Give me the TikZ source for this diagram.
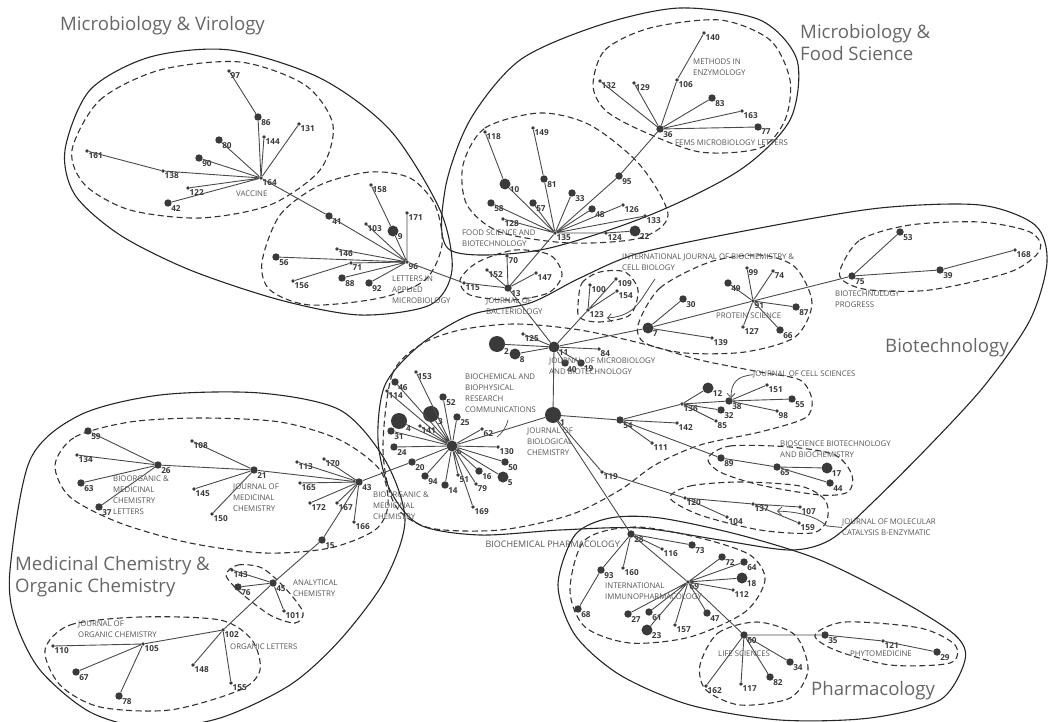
\documentclass[tikz,border=0pt]{standalone}
\usepackage{fontspec}
\setmainfont{Open Sans}
\usetikzlibrary{arrows.meta}
\definecolor{dotgray}{HTML}{3A3A3A}
\definecolor{linkgray}{HTML}{4A4A4A}
\definecolor{namegray}{HTML}{555555}
\definecolor{titlegray}{HTML}{666666}
\begin{document}
\begin{tikzpicture}[x=1pt,y=-1pt,
    dotS/.style={circle,fill=dotgray,inner sep=0pt,minimum size=3.8pt},
    dotM/.style={circle,fill=dotgray,inner sep=0pt,minimum size=7.4pt},
    dotL/.style={circle,fill=dotgray,inner sep=0pt,minimum size=11pt},
    dotX/.style={circle,fill=dotgray,inner sep=0pt,minimum size=16pt},
    link/.style={draw=linkgray,line width=0.9pt},
    region/.style={draw=black!85,line width=1.1pt},
    cluster/.style={draw=black!80,line width=1.1pt,dash pattern=on 6pt off 3.5pt},
    jname/.style={font=\fontsize{7.8}{10.8}\selectfont,text=namegray,align=left,anchor=north west,inner sep=0pt},
    group/.style={font=\fontsize{18.6}{22.5}\selectfont,text=titlegray,align=left,anchor=north west,inner sep=0pt},
    pointer/.style={draw=linkgray,line width=0.8pt,-{Straight Barb[length=4pt,width=8pt]}},
    every label/.style={font=\fontsize{8.2}{9}\selectfont\bfseries,text=black!78,inner sep=0.4pt},
    label distance=-0.8pt
  ]
  \useasboundingbox (0,0) rectangle (1049,722);

  % subject areas
  \draw[region] plot[smooth cycle] coordinates {(65,150) (90,90) (150,57) (230,50) (320,78) (390,130) (440,210) (452,270) (430,305) (360,315) (280,300) (190,270) (120,235) (75,195)};
  \draw[region] plot[smooth cycle] coordinates {(450,250) (540,250) (650,215) (740,170) (790,120) (797,60) (760,20) (680,8) (600,25) (520,60) (470,120) (445,190)};
  \draw[region] plot[smooth cycle] coordinates {(378,440) (385,385) (420,345) (470,315) (530,303) (580,278) (640,253) (760,228) (880,208) (980,205) (1035,225) (1047,262) (1030,320) (985,385) (930,445) (870,505) (830,540) (790,550) (720,540) (640,528) (560,530) (480,535) (420,525) (390,490)};
  \draw[region] plot[smooth cycle] coordinates {(10,570) (30,460) (80,415) (160,395) (260,393) (340,410) (385,460) (405,520) (385,580) (340,640) (290,685) (220,718) (150,728) (90,712) (40,670) (15,620)};
  \draw[region] plot[smooth cycle] coordinates {(558,585) (575,535) (610,518) (660,518) (740,535) (820,560) (900,600) (955,635) (965,660) (940,700) (870,718) (780,720) (690,705) (620,675) (575,635)};

  % journal clusters
  \draw[cluster] plot[smooth cycle] coordinates {(72,150) (100,100) (160,70) (240,62) (305,85) (333,125) (320,170) (270,205) (200,218) (130,210) (85,185)};
  \draw[cluster] plot[smooth cycle] coordinates {(262,262) (280,215) (320,185) (370,172) (410,178) (435,205) (442,245) (425,280) (380,298) (310,305) (270,290)};
  \draw[cluster] plot[smooth cycle] coordinates {(593,85) (605,50) (650,28) (720,20) (770,40) (790,80) (785,120) (760,148) (700,152) (640,130) (605,110)};
  \draw[cluster] plot[smooth cycle] coordinates {(463,165) (485,128) (540,113) (590,125) (640,165) (668,215) (640,238) (570,243) (500,232) (467,205)};
  \draw[cluster] plot[smooth cycle] coordinates {(460,280) (478,262) (515,250) (550,255) (562,275) (548,293) (510,300) (470,295)};
  \draw[cluster] plot[smooth cycle] coordinates {(578,305) (582,283) (600,272) (625,272) (638,290) (630,315) (600,322) (580,318)};
  \draw[cluster] plot[smooth cycle] coordinates {(638,325) (660,288) (710,262) (760,255) (795,267) (812,303) (795,337) (745,352) (685,353) (645,343)};
  \draw[cluster] plot[smooth cycle] coordinates {(840,270) (860,240) (910,225) (980,222) (1030,232) (1040,250) (1010,272) (930,290) (870,290) (845,282)};
  \draw[cluster] plot[smooth cycle] coordinates {(383,450) (392,375) (420,345) (460,330) (515,324) (580,330) (648,345) (700,360) (760,372) (800,380) (812,400) (805,418) (760,432) (700,445) (655,465) (620,490) (570,515) (500,530) (430,528) (395,505)};
  \draw[cluster] plot[smooth cycle] coordinates {(708,458) (730,446) (790,447) (835,455) (852,475) (848,492) (820,495) (760,485) (720,472)};
  \draw[cluster] plot[smooth cycle] coordinates {(670,498) (690,486) (740,482) (800,486) (825,500) (827,520) (812,533) (760,530) (700,515)};
  \draw[cluster] plot[smooth cycle] coordinates {(55,465) (75,437) (130,422) (200,418) (280,422) (340,440) (380,470) (388,505) (375,530) (330,548) (265,553) (190,543) (120,523) (70,497)};
  \draw[cluster] plot[smooth cycle] coordinates {(226,575) (238,565) (262,568) (285,588) (303,612) (295,623) (270,615) (240,592)};
  \draw[cluster] plot[smooth cycle] coordinates {(45,650) (70,625) (140,617) (220,620) (252,640) (260,670) (240,690) (170,710) (100,707) (60,685)};
  \draw[cluster] plot[smooth cycle] coordinates {(570,590) (585,540) (635,527) (700,538) (750,555) (765,580) (745,612) (690,637) (630,643) (585,627)};
  \draw[cluster] plot[smooth cycle] coordinates {(700,665) (718,633) (757,622) (795,635) (808,670) (790,698) (740,705) (706,690)};
  \draw[cluster] plot[smooth cycle] coordinates {(815,635) (845,622) (920,628) (955,645) (950,663) (890,665) (835,650)};

  % journals: vaccine
  \node[dotS,label=-30:97] (n97) at (229,71) {};
  \node[dotM,label=-30:86] (n86) at (258,117) {};
  \node[dotS,label=-30:144] (n144) at (264,137) {};
  \node[dotS,label=-30:131] (n131) at (299,124) {};
  \node[dotM,label=-30:80] (n80) at (219,140) {};
  \node[dotM,label=-30:90] (n90) at (199,158) {};
  \node[dotS,label=-30:161] (n161) at (87,151) {};
  \node[dotS,label=-30:138] (n138) at (163,171) {};
  \node[dotS,label=-30:164] (n164) at (261,178) {};
  \node[dotS,label=-30:122] (n122) at (188,188) {};
  \node[dotM,label=-30:42] (n42) at (168,203) {};
  % letters in applied microbiology
  \node[dotM,label=-30:41] (n41) at (329,216) {};
  \node[dotS,label=-30:158] (n158) at (371,185) {};
  \node[dotS,label=-30:171] (n171) at (407,213) {};
  \node[dotS,label=-30:103] (n103) at (366,224) {};
  \node[dotL,label=-30:9] (n9) at (393,231) {};
  \node[dotS,label=-30:146] (n146) at (337,249) {};
  \node[dotM,label=-30:56] (n56) at (276,257) {};
  \node[dotS,label=-30:71] (n71) at (351,263) {};
  \node[dotS,label=-30:96] (n96) at (407,262) {};
  \node[dotS,label=-30:156] (n156) at (293,281) {};
  \node[dotM,label=-30:88] (n88) at (342,278) {};
  \node[dotM,label=-30:92] (n92) at (369,283) {};
  % journal of bacteriology
  \node[dotS,label=-30:115] (n115) at (464,283) {};
  \node[dotS,label=-30:152] (n152) at (487,270) {};
  \node[dotS,label=-30:70] (n70) at (507,256) {};
  \node[dotS,label=-30:147] (n147) at (536,273) {};
  \node[dotM,label=-30:13] (n13) at (508,288) {};
  % food science and biotechnology
  \node[dotS,label=-30:118] (n118) at (485,132) {};
  \node[dotS,label=-30:149] (n149) at (533,128) {};
  \node[dotL,label=-30:10] (n10) at (505,184) {};
  \node[dotM,label=-30:81] (n81) at (544,179) {};
  \node[dotM,label=-30:33] (n33) at (572,193) {};
  \node[dotM,label=-30:95] (n95) at (619,176) {};
  \node[dotM,label=-30:58] (n58) at (491,203) {};
  \node[dotM,label=-30:57] (n57) at (533,203) {};
  \node[dotS,label=-30:128] (n128) at (503,219) {};
  \node[dotM,label=-30:48] (n48) at (592,209) {};
  \node[dotS,label=-30:126] (n126) at (623,205) {};
  \node[dotS,label=-30:133] (n133) at (645,216) {};
  \node[dotL,label=-30:22] (n22) at (635,231) {};
  \node[dotS,label=-30:124] (n124) at (606,233) {};
  \node[dotS,label=-30:135] (n135) at (555,233) {};
  % fems microbiology letters
  \node[dotM,label=-30:36] (n36) at (660,129) {};
  \node[dotS,label=-30:132] (n132) at (600,81) {};
  \node[dotS,label=-30:129] (n129) at (634,83) {};
  \node[dotS,label=-30:140] (n140) at (704,33) {};
  \node[dotS,label=-30:106] (n106) at (677,80) {};
  \node[dotM,label=-30:83] (n83) at (712,98) {};
  \node[dotS,label=-30:163] (n163) at (742,111) {};
  \node[dotM,label=-30:77] (n77) at (758,127) {};
  % int j biochem cell biol
  \node[dotS,label=-30:123] (n123) at (588,310) {};
  \node[dotS,label=-30:100] (n100) at (590,285) {};
  \node[dotS,label=-30:109] (n109) at (616,279) {};
  \node[dotS,label=-30:154] (n154) at (617,291) {};
  % j microbiol biotechnol
  \node[dotL,label=-30:11] (n11) at (554,347) {};
  \node[dotS,label=-30:125] (n125) at (523,334) {};
  \node[dotX,label=-30:2] (n2) at (497,344) {};
  \node[dotL,label=-30:8] (n8) at (515,354) {};
  \node[dotS,label=-30:84] (n84) at (599,349) {};
  \node[dotM,label=-60:40] (n40) at (565,363) {};
  \node[dotM,label=-40:19] (n19) at (581,363) {};
  % protein science
  \node[dotL,label=-30:7] (n7) at (648,328) {};
  \node[dotM,label=-30:30] (n30) at (683,299) {};
  \node[dotS,label=-30:139] (n139) at (712,338) {};
  \node[dotS,label=-30:91] (n91) at (753,301) {};
  \node[dotS,label=-30:99] (n99) at (747,268) {};
  \node[dotS,label=-30:74] (n74) at (773,271) {};
  \node[dotM,label=-30:49] (n49) at (728,283) {};
  \node[dotM,label=-30:87] (n87) at (796,307) {};
  \node[dotS,label=-30:127] (n127) at (743,327) {};
  \node[dotM,label=-30:66] (n66) at (780,330) {};
  % biotechnology progress
  \node[dotM,label=-30:75] (n75) at (852,276) {};
  \node[dotM,label=-30:53] (n53) at (900,232) {};
  \node[dotM,label=-30:39] (n39) at (940,270) {};
  \node[dotS,label=-30:168] (n168) at (1015,250) {};
  % jbc and bbrc
  \node[dotX,label=-30:1] (n1) at (553,415) {};
  \node[dotL,label=-30:6] (n6) at (452,446) {};
  \node[dotS,label=-30:153] (n153) at (416,372) {};
  \node[dotM,label=-30:46] (n46) at (395,382) {};
  \node[dotS,label=-30:114] (n114) at (387,391) {};
  \node[dotX,label=-30:3] (n3) at (431,414) {};
  \node[dotM,label=-30:52] (n52) at (443,397) {};
  \node[dotM,label=-30:25] (n25) at (457,417) {};
  \node[dotS,label=-30:141] (n141) at (420,426) {};
  \node[dotX,label=-30:4] (n4) at (399,421) {};
  \node[dotM,label=-30:31] (n31) at (391,431) {};
  \node[dotM,label=-30:24] (n24) at (394,447) {};
  \node[dotM,label=-30:20] (n20) at (412,462) {};
  \node[dotM,label=-30:94] (n94) at (425,476) {};
  \node[dotM,label=-30:14] (n14) at (445,485) {};
  \node[dotS,label=-30:51] (n51) at (458,475) {};
  \node[dotS,label=-30:79] (n79) at (476,484) {};
  \node[dotM,label=-30:16] (n16) at (479,471) {};
  \node[dotL,label=-30:5] (n5) at (503,477) {};
  \node[dotM,label=-30:50] (n50) at (505,462) {};
  \node[dotS,label=-30:130] (n130) at (498,447) {};
  \node[dotS,label=-30:62] (n62) at (482,429) {};
  \node[dotS,label=-30:169] (n169) at (473,507) {};
  % cell sciences, bioscience biotechnology and biochemistry
  \node[dotM,label=-30:54] (n54) at (620,420) {};
  \node[dotS,label=-30:142] (n142) at (677,423) {};
  \node[dotS,label=-30:111] (n111) at (652,443) {};
  \node[dotS,label=-30:136] (n136) at (682,404) {};
  \node[dotL,label=-30:12] (n12) at (708,388) {};
  \node[dotM,label=-30:38] (n38) at (729,401) {};
  \node[dotS,label=-30:151] (n151) at (767,385) {};
  \node[dotM,label=-30:55] (n55) at (792,399) {};
  \node[dotS,label=-30:98] (n98) at (777,411) {};
  \node[dotM,label=-30:32] (n32) at (721,410) {};
  \node[dotS,label=-30:85] (n85) at (716,421) {};
  \node[dotM,label=-30:89] (n89) at (721,458) {};
  \node[dotM,label=-30:65] (n65) at (777,467) {};
  \node[dotL,label=-30:17] (n17) at (827,468) {};
  \node[dotM,label=-30:44] (n44) at (830,483) {};
  % molecular catalysis
  \node[dotS,label=-30:119] (n119) at (602,472) {};
  \node[dotS,label=-30:120] (n120) at (685,498) {};
  \node[dotS,label=-30:137] (n137) at (753,504) {};
  \node[dotS,label=-30:107] (n107) at (800,507) {};
  \node[dotS,label=-30:159] (n159) at (799,523) {};
  \node[dotS,label=-30:104] (n104) at (727,517) {};
  % medicinal chemistry
  \node[dotM,label=-30:59] (n59) at (88,431) {};
  \node[dotS,label=-30:134] (n134) at (77,455) {};
  \node[dotM,label=-30:63] (n63) at (81,483) {};
  \node[dotM,label=-30:37] (n37) at (99,507) {};
  \node[dotM,label=-30:26] (n26) at (158,465) {};
  \node[dotS,label=-30:108] (n108) at (192,441) {};
  \node[dotM,label=-30:21] (n21) at (254,470) {};
  \node[dotS,label=-30:145] (n145) at (194,489) {};
  \node[dotS,label=-30:150] (n150) at (212,514) {};
  \node[dotS,label=-30:113] (n113) at (297,462) {};
  \node[dotS,label=-30:170] (n170) at (324,459) {};
  \node[dotS,label=-30:165] (n165) at (300,483) {};
  \node[dotS,label=-30:172] (n172) at (310,503) {};
  \node[dotS,label=-30:167] (n167) at (337,503) {};
  \node[dotS,label=-30:166] (n166) at (354,522) {};
  \node[dotM,label=-30:43] (n43) at (359,482) {};
  \node[dotM,label=-30:15] (n15) at (322,540) {};
  % analytical and organic chemistry
  \node[dotM,label=-30:45] (n45) at (273,583) {};
  \node[dotS,label=-30:143] (n143) at (232,570) {};
  \node[dotM,label=-30:76] (n76) at (238,587) {};
  \node[dotS,label=-30:101] (n101) at (284,611) {};
  \node[dotS,label=-30:102] (n102) at (223,630) {};
  \node[dotS,label=-30:105] (n105) at (143,644) {};
  \node[dotS,label=-30:110] (n110) at (53,646) {};
  \node[dotM,label=-30:67] (n67) at (76,672) {};
  \node[dotM,label=-30:78] (n78) at (119,696) {};
  \node[dotS,label=-30:148] (n148) at (193,665) {};
  \node[dotS,label=-30:155] (n155) at (231,683) {};
  % pharmacology
  \node[dotM,label=-30:28] (n28) at (631,534) {};
  \node[dotM,label=-30:73] (n73) at (692,545) {};
  \node[dotS,label=-30:116] (n116) at (662,549) {};
  \node[dotS,label=-30:160] (n160) at (623,568) {};
  \node[dotM,label=-30:93] (n93) at (601,570) {};
  \node[dotM,label=-30:68] (n68) at (578,609) {};
  \node[dotS,label=-30:69] (n69) at (688,582) {};
  \node[dotM,label=-30:72] (n72) at (722,557) {};
  \node[dotM,label=-30:64] (n64) at (744,562) {};
  \node[dotL,label=-30:18] (n18) at (742,578) {};
  \node[dotS,label=-30:112] (n112) at (733,590) {};
  \node[dotM,label=-30:47] (n47) at (707,613) {};
  \node[dotS,label=-30:157] (n157) at (675,625) {};
  \node[dotL,label=-30:23] (n23) at (647,630) {};
  \node[dotM,label=-30:61] (n61) at (649,612) {};
  \node[dotM,label=-30:27] (n27) at (628,614) {};
  \node[dotM,label=-30:60] (n60) at (744,635) {};
  \node[dotM,label=-30:34] (n34) at (790,662) {};
  \node[dotM,label=-30:82] (n82) at (770,677) {};
  \node[dotS,label=-30:117] (n117) at (741,684) {};
  \node[dotS,label=-30:162] (n162) at (706,686) {};
  \node[dotM,label=-30:35] (n35) at (825,635) {};
  \node[dotS,label=-30:121] (n121) at (883,641) {};
  \node[dotM,label=-30:29] (n29) at (937,652) {};

  % links
  \draw[link] (n97) -- (n86) -- (n164);
  \draw[link] (n144) -- (n164) (n131) -- (n164) (n80) -- (n164) (n90) -- (n164);
  \draw[link] (n161) -- (n138) -- (n164) (n122) -- (n164) (n42) -- (n164);
  \draw[link] (n164) -- (n41) -- (n96);
  \draw[link] (n158) -- (n9) -- (n96) (n103) -- (n96) (n171) -- (n96) (n146) -- (n96) (n56) -- (n96);
  \draw[link] (n156) -- (n71) -- (n96) (n88) -- (n96) (n92) -- (n96);
  \draw[link] (n96) -- (n115) -- (n13);
  \draw[link] (n152) -- (n13) (n70) -- (n13) (n147) -- (n13) (n13) -- (n135) (n13) -- (n11);
  \draw[link] (n118) -- (n10) -- (n135) (n149) -- (n81) -- (n135) (n33) -- (n135);
  \draw[link] (n135) -- (n95) -- (n36);
  \draw[link] (n58) -- (n135) (n57) -- (n135) (n128) -- (n135) (n48) -- (n135) (n126) -- (n135) (n133) -- (n135);
  \draw[link] (n135) -- (n124) -- (n22);
  \draw[link] (n132) -- (n36) (n129) -- (n36) (n140) -- (n106) -- (n36) (n83) -- (n36) (n163) -- (n36) (n77) -- (n36);
  \draw[link] (n125) -- (n11) (n2) -- (n11) (n8) -- (n11) (n11) -- (n84) (n11) -- (n40) (n11) -- (n19);
  \draw[link] (n11) -- (n123) (n100) -- (n123) (n109) -- (n123) (n154) -- (n123);
  \draw[link] (n11) -- (n7) (n11) -- (n1);
  \draw[link] (n7) -- (n30) (n7) -- (n139) (n7) -- (n91);
  \draw[link] (n91) -- (n99) (n91) -- (n74) (n91) -- (n49) (n91) -- (n87) (n91) -- (n127) (n91) -- (n66) (n91) -- (n75);
  \draw[link] (n75) -- (n53) (n75) -- (n39) -- (n168);
  \draw[link] (n6) -- (n1) (n6) -- (n153) (n6) -- (n46) (n6) -- (n114) (n6) -- (n3) (n6) -- (n52) (n6) -- (n25);
  \draw[link] (n6) -- (n141) (n6) -- (n4) (n6) -- (n31) (n6) -- (n24) (n6) -- (n20) (n6) -- (n94) (n6) -- (n14);
  \draw[link] (n6) -- (n51) (n6) -- (n79) (n6) -- (n16) (n6) -- (n5) (n6) -- (n50) (n6) -- (n130) (n6) -- (n62) (n6) -- (n169);
  \draw[link] (n1) -- (n54) (n54) -- (n136) (n54) -- (n142) (n54) -- (n111) (n54) -- (n89);
  \draw[link] (n136) -- (n12) (n136) -- (n38) (n136) -- (n32) (n136) -- (n85);
  \draw[link] (n38) -- (n151) (n38) -- (n55) (n38) -- (n98);
  \draw[link] (n89) -- (n65) -- (n17) (n65) -- (n44);
  \draw[link] (n1) -- (n119) -- (n120) (n120) -- (n137) (n120) -- (n104) (n137) -- (n107) (n137) -- (n159);
  \draw[link] (n1) -- (n28);
  \draw[link] (n59) -- (n26) (n134) -- (n26) (n63) -- (n26) (n37) -- (n26) (n26) -- (n21);
  \draw[link] (n108) -- (n21) (n145) -- (n21) (n150) -- (n21) (n21) -- (n43);
  \draw[link] (n113) -- (n43) (n170) -- (n43) (n165) -- (n43) (n172) -- (n43) (n167) -- (n43) (n166) -- (n43);
  \draw[link] (n43) -- (n20) (n15) -- (n43) (n15) -- (n45);
  \draw[link] (n143) -- (n45) (n76) -- (n45) (n101) -- (n45) (n45) -- (n102);
  \draw[link] (n102) -- (n105) (n102) -- (n148) (n102) -- (n155) (n105) -- (n110) (n105) -- (n67) (n105) -- (n78);
  \draw[link] (n28) -- (n73) (n28) -- (n116) (n28) -- (n160) (n28) -- (n93) -- (n68) (n28) -- (n69);
  \draw[link] (n69) -- (n72) (n69) -- (n64) (n69) -- (n18) (n69) -- (n112) (n69) -- (n47) (n69) -- (n157);
  \draw[link] (n69) -- (n23) (n69) -- (n61) (n69) -- (n27) (n69) -- (n60);
  \draw[link] (n60) -- (n34) (n60) -- (n82) (n60) -- (n117) (n60) -- (n162) (n60) -- (n35) -- (n121) -- (n29);

  % journal names
  \node[jname] (vac) at (236,191) {VACCINE};
  \node[jname] (lam) at (392,276) {LETTERS IN\\APPLIED\\MICROBIOLOGY};
  \node[jname] (fsb) at (462,230) {FOOD SCIENCE AND\\BIOTECHNOLOGY};
  \node[jname] (jbac) at (486,298) {JOURNAL OF\\BACTERIOLOGY};
  \node[jname] (mie) at (693,59) {METHODS IN\\ENZYMOLOGY};
  \node[jname] (fems) at (675,140) {FEMS MICROBIOLOGY LETTERS};
  \node[jname] (ijbc) at (622,254) {INTERNATIONAL JOURNAL OF BIOCHEMISTRY \&\\CELL BIOLOGY};
  \node[jname] (ps) at (716,313) {PROTEIN SCIENCE};
  \node[jname] (bp) at (835,291) {BIOTECHNOLOGY\\PROGRESS};
  \node[jname] (jmb) at (549,358) {JOURNAL OF MICROBIOLOGY\\AND BIOTECHNOLOGY};
  \node[jname] (bbrc) at (465,374) {BIOCHEMICAL AND\\BIOPHYSICAL\\RESEARCH\\COMMUNICATIONS};
  \node[jname] (jbc) at (527,428) {JOURNAL OF\\BIOLOGICAL\\CHEMISTRY};
  \node[jname] (jcs) at (753,371) {JOURNAL OF CELL SCIENCES};
  \node[jname] (bbb) at (780,441) {BIOSCIENCE BIOTECHNOLOGY\\AND BIOCHEMISTRY};
  \node[jname] (jmc) at (842,519) {JOURNAL OF MOLECULAR\\CATALYSIS B-ENZYMATIC};
  \node[jname,font=\fontsize{9}{10.8}\selectfont,anchor=north east] (bph) at (620,541) {BIOCHEMICAL PHARMACOLOGY};
  \node[jname] (iip) at (605,583) {INTERNATIONAL\\IMMUNOPHARMACOLOGY};
  \node[jname] (ls) at (718,651) {LIFE SCIENCES};
  \node[jname] (phy) at (850,651) {PHYTOMEDICINE};
  \node[jname] (bmcl) at (113,476) {BIOORGANIC \&\\MEDICINAL\\CHEMISTRY\\LETTERS};
  \node[jname] (jmedc) at (233,484) {JOURNAL OF\\MEDICINAL\\CHEMISTRY};
  \node[jname] (bmc) at (373,492) {BIOORGANIC \&\\MEDICINAL\\CHEMISTRY};
  \node[jname] (ac) at (293,580) {ANALYTICAL\\CHEMISTRY};
  \node[jname] (ol) at (230,644) {ORGANIC LETTERS};
  \node[jname] (joc) at (78,621) {JOURNAL OF\\ORGANIC CHEMISTRY};

  % pointers from names
  \coordinate (ijbc-from) at (655,279);
  \coordinate (ijbc-to) at (607,318);
  \draw[pointer] (ijbc-from) .. controls (640,300) and (636,316) .. (ijbc-to);
  \coordinate (jcs-to) at (731,398);
  \draw[pointer] (jcs.west) .. controls (736,376) and (731,384) .. (jcs-to);
  \coordinate (jmc-bend) at (827,526);
  \coordinate (jmc-to) at (777,511);
  \draw[pointer] (jmc.west) -- (jmc-bend) .. controls (815,516) and (800,512) .. (jmc-to);
  \coordinate (bbrc-from) at (508,420);
  \coordinate (bbrc-to) at (497,437);
  \draw[link,line width=0.7pt] (bbrc-from) .. controls (506,428) and (502,433) .. (bbrc-to);

  % subject area names
  \node[group] (virology) at (60,16) {Microbiology \& Virology};
  \node[group] (foodsci) at (800,24) {Microbiology \&\\Food Science};
  \node[group] (biotech) at (885,338) {Biotechnology};
  \node[group] (medchem) at (15,556) {Medicinal Chemistry \&\\Organic Chemistry};
  \node[group] (pharm) at (811,681) {Pharmacology};
\end{tikzpicture}
\end{document}
